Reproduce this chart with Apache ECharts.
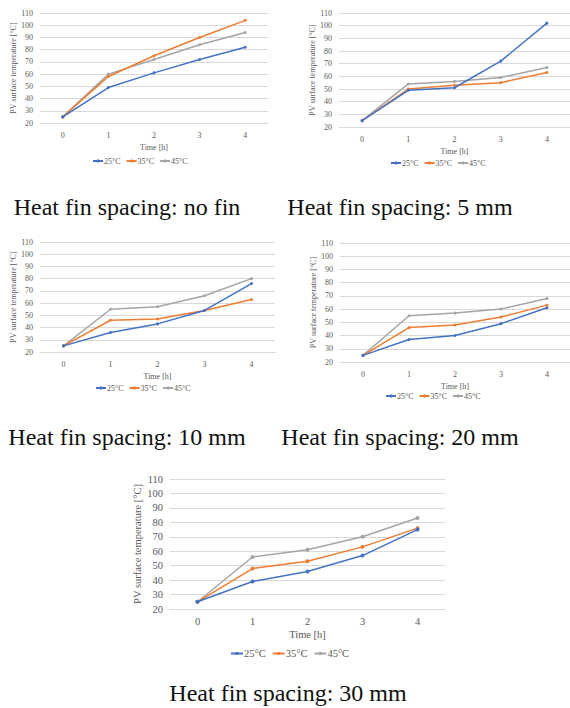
<!DOCTYPE html>
<html>
<head>
<meta charset="utf-8">
<script src="https://cdn.jsdelivr.net/npm/echarts@6/dist/echarts.min.js"></script>
<style>
  html, body { margin: 0; padding: 0; background: #fff; }
  #main { width: 570px; height: 708px; }
</style>
</head>
<body>
<div id="main"></div>
<script>
// time axis
var hours = ['0', '1', '2', '3', '4'];
var legendNames = ['25°C', '35°C', '45°C'];
var yTicks = { min: 20, max: 110, step: 10 };

// PV surface temperature, one array per fin spacing and ambient temperature
var fin0_25 = [25, 49, 61, 72, 82];
var fin0_35 = [25, 58, 75, 90, 104];
var fin0_45 = [25, 60, 72, 84, 94];

var fin5_25 = [25, 49, 51, 72, 102];
var fin5_35 = [25, 50, 53, 55, 63];
var fin5_45 = [25, 54, 56, 59, 67];

var fin10_25 = [25, 36, 43, 54, 76];
var fin10_35 = [25, 46, 47, 54, 63];
var fin10_45 = [25, 55, 57, 66, 80];

var fin20_25 = [25, 37, 40, 49, 61];
var fin20_35 = [25, 46, 48, 54, 63];
var fin20_45 = [25, 55, 57, 60, 68];

var fin30_25 = [25, 39, 46, 57, 75];
var fin30_35 = [25, 48, 53, 63, 76];
var fin30_45 = [25, 56, 61, 70, 83];

var captions = [
    'Heat fin spacing: no fin',
    'Heat fin spacing: 5 mm',
    'Heat fin spacing: 10 mm',
    'Heat fin spacing: 20 mm',
    'Heat fin spacing: 30 mm'
];

var panelData = [
    [fin0_25, fin0_35, fin0_45],
    [fin5_25, fin5_35, fin5_45],
    [fin10_25, fin10_35, fin10_45],
    [fin20_25, fin20_35, fin20_45],
    [fin30_25, fin30_35, fin30_45]
];

// layout of each small chart
var panels = [
    { left: 40, top: 13, width: 228, height: 110, font: 8, legendLeft: 92, legendTop: 157, capX: 127, capY: 207 },
    { left: 339, top: 13, width: 231, height: 114, font: 8, legendLeft: 390, legendTop: 159, capX: 400, capY: 207 },
    { left: 40, top: 242, width: 235, height: 110, font: 8, legendLeft: 95, legendTop: 384, capX: 127, capY: 437 },
    { left: 340, top: 243, width: 230, height: 119, font: 8, legendLeft: 385, legendTop: 392, capX: 400, capY: 437 },
    { left: 170, top: 479, width: 275, height: 130, font: 10.5, legendLeft: 230, legendTop: 648, capX: 288, capY: 693 }
];

var colors = ['#4472C4', '#ED7D31', '#A5A5A5'];
var fontFamily = 'Liberation Serif';

var grid = [], xAxis = [], yAxis = [], series = [], legend = [], graphic = [];

panels.forEach(function (p, i) {
    var big = p.font > 9;
    grid.push({ left: p.left, top: p.top, width: p.width, height: p.height });
    xAxis.push({
        type: 'category',
        gridIndex: i,
        data: hours,
        boundaryGap: true,
        name: 'Time [h]',
        nameLocation: 'middle',
        nameGap: 20,
        nameTextStyle: { fontFamily: fontFamily, fontSize: p.font, color: '#595959' },
        axisTick: { show: false },
        axisLine: { lineStyle: { color: '#d9d9d9' } },
        axisLabel: { fontFamily: fontFamily, fontSize: p.font, color: '#595959', margin: big ? 7 : 8 }
    });
    yAxis.push({
        type: 'value',
        gridIndex: i,
        min: yTicks.min,
        max: yTicks.max,
        interval: yTicks.step,
        name: 'PV surface temperature [°C]',
        nameLocation: 'middle',
        nameGap: big ? 25 : 21,
        nameTextStyle: { fontFamily: fontFamily, fontSize: p.font, color: '#595959' },
        axisLine: { show: false },
        axisTick: { show: false },
        splitLine: { lineStyle: { color: '#d9d9d9' } },
        axisLabel: { fontFamily: fontFamily, fontSize: p.font, color: '#595959', margin: 7 }
    });
    panelData[i].forEach(function (vals, k) {
        series.push({
            name: legendNames[k],
            type: 'line',
            xAxisIndex: i,
            yAxisIndex: i,
            data: vals,
            symbol: 'circle',
            symbolSize: big ? 4 : 3,
            lineStyle: { width: 1.5, color: colors[k] },
            itemStyle: { color: colors[k] },
            z: 10 - k
        });
    });
    legend.push({
        data: legendNames,
        left: p.legendLeft,
        top: p.legendTop,
        padding: 0,
        itemWidth: big ? 12 : 10,
        itemHeight: 4,
        itemGap: big ? 6 : 5,
        textStyle: { fontFamily: fontFamily, fontSize: p.font, color: '#595959', padding: [0, 0, 0, -4] }
    });
    graphic.push({
        type: 'text',
        x: p.capX,
        y: p.capY,
        style: {
            text: captions[i],
            fontFamily: fontFamily,
            fontSize: 24,
            fill: '#111',
            textAlign: 'center',
            textVerticalAlign: 'middle'
        }
    });
});

var chart = echarts.init(document.getElementById('main'), null, { renderer: 'svg' });
chart.setOption({
    animation: false,
    color: colors,
    grid: grid,
    xAxis: xAxis,
    yAxis: yAxis,
    legend: legend,
    series: series,
    graphic: graphic
});
</script>
</body>
</html>
